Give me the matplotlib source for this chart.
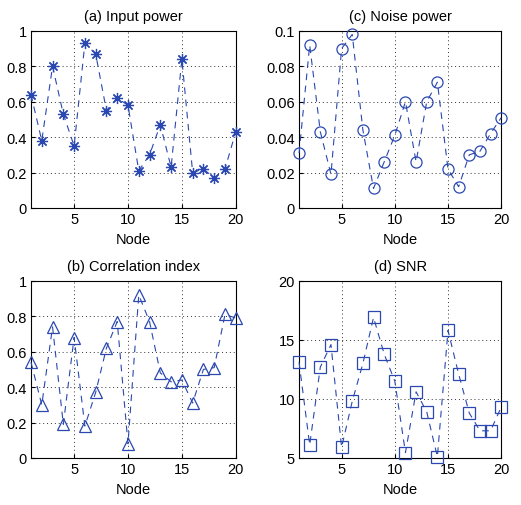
import matplotlib
matplotlib.use('Agg')
import matplotlib.pyplot as plt
from matplotlib import rcParams

rcParams['font.family'] = ['Liberation Sans', 'DejaVu Sans']
rcParams['axes.unicode_minus'] = False

nodes = list(range(1, 21))

input_power = [0.64, 0.38, 0.80, 0.53, 0.35, 0.93, 0.87, 0.55, 0.62, 0.58,
               0.21, 0.30, 0.47, 0.23, 0.84, 0.20, 0.22, 0.17, 0.22, 0.43]
noise_power = [0.031, 0.092, 0.043, 0.019, 0.090, 0.098, 0.044, 0.011, 0.026, 0.041,
               0.060, 0.026, 0.060, 0.071, 0.022, 0.012, 0.030, 0.032, 0.042, 0.051]
correlation = [0.54, 0.30, 0.74, 0.19, 0.68, 0.18, 0.37, 0.62, 0.77, 0.08,
               0.92, 0.77, 0.48, 0.43, 0.44, 0.31, 0.50, 0.51, 0.81, 0.79]
snr = [13.1, 6.1, 12.7, 14.6, 5.9, 9.8, 13.0, 16.9, 13.8, 11.5,
       5.45, 10.6, 8.9, 5.1, 15.8, 12.1, 8.8, 7.3, 7.3, 9.3]

COLOR = '#2a48b0'

panels = [
    # (left, bottom, data, marker, title, ylim, yticks, yticklabels)
    (0.0595, 0.587, input_power, (8, 2, 0), '(a) Input power', (0, 1),
     [0, 0.2, 0.4, 0.6, 0.8, 1], ['0', '0.2', '0.4', '0.6', '0.8', '1']),
    (0.574, 0.587, noise_power, 'o', '(c) Noise power', (0, 0.1),
     [0, 0.02, 0.04, 0.06, 0.08, 0.1], ['0', '0.02', '0.04', '0.06', '0.08', '0.1']),
    (0.0595, 0.093, correlation, '^', '(b) Correlation index', (0, 1),
     [0, 0.2, 0.4, 0.6, 0.8, 1], ['0', '0.2', '0.4', '0.6', '0.8', '1']),
    (0.574, 0.093, snr, 's', '(d) SNR', (5, 20),
     [5, 10, 15, 20], ['5', '10', '15', '20']),
]

fig = plt.figure(figsize=(5.21, 5.06), dpi=100)

for left, bottom, data, marker, title, ylim, yticks, ylabels in panels:
    width = 0.393 if left < 0.5 else 0.388
    ax = fig.add_axes([left, bottom, width, 0.350])
    ms = 8 if marker == (8, 2, 0) else 8
    ax.plot(nodes, data, linestyle=(0, (6, 5)), linewidth=0.8, color=COLOR,
            marker=marker, markersize=ms, markerfacecolor='none',
            markeredgecolor=COLOR, markeredgewidth=0.9, clip_on=False, zorder=3)
    ax.set_xlim(1, 20)
    ax.set_ylim(*ylim)
    ax.set_xticks([5, 10, 15, 20])
    ax.set_yticks(yticks)
    ax.set_yticklabels(ylabels)
    ax.grid(True, color='#333333', linestyle=(0, (1, 3)), linewidth=0.7)
    ax.tick_params(direction='in', length=3, labelsize=10.5, pad=3)
    ax.set_title(title, fontsize=10.5, pad=8)
    ax.set_xlabel('Node', fontsize=10.5, labelpad=4)
    for sp in ax.spines.values():
        sp.set_linewidth(0.8)

fig.savefig('out.png', dpi=100)
